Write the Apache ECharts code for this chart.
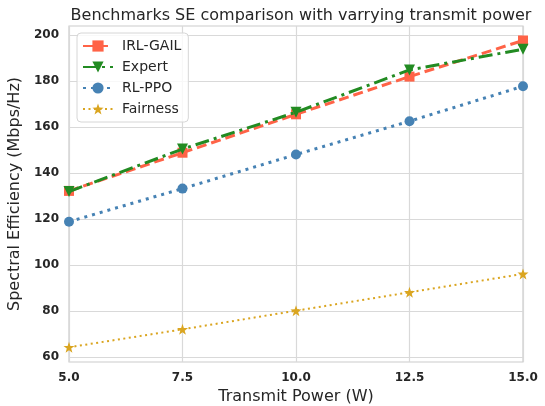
<!DOCTYPE html>
<html>
<head>
<meta charset="utf-8">
<script src="https://cdn.jsdelivr.net/npm/echarts@6/dist/echarts.min.js"></script>
<style>
  html, body { margin: 0; padding: 0; background: #fff; }
  #chart { width: 545px; height: 406px; }
</style>
</head>
<body>
<div id="chart"></div>
<script>
// transmit power (W)
const power = [5.0, 7.5, 10.0, 12.5, 15.0];
const irlGail = [132.2, 148.8, 165.5, 181.9, 197.6];
const expert = [131.9, 150.4, 166.4, 184.8, 193.8];
const rlPpo = [118.8, 133.2, 148.0, 162.5, 177.7];
const fairness = [64.2, 72.0, 80.1, 88.1, 96.1];
const yTicks = [60, 80, 100, 120, 140, 160, 180, 200];

const pairs = (ys) => power.map((x, i) => [x, ys[i]]);

const font = 'DejaVu Sans';
const dark = '#262626';
const gridCol = '#d9d9d9';

const chart = echarts.init(document.getElementById('chart'));

const option = {
  animation: false,
  textStyle: { fontFamily: font },
  title: {
    text: 'Benchmarks SE comparison with varrying transmit power',
    left: 296,
    textAlign: 'center',
    top: 3,
    textStyle: { fontFamily: font, fontSize: 16, fontWeight: 'normal', color: dark }
  },
  grid: {
    left: 69, right: 22, top: 26, bottom: 44,
    outerBoundsMode: 'none', containLabel: false,
    show: true, borderColor: '#cccccc', borderWidth: 1.2, backgroundColor: '#fff'
  },
  legend: {
    left: 77, top: 33, orient: 'vertical',
    padding: [6, 7, 6, 5],
    itemGap: 7, itemWidth: 30, itemHeight: 14,
    backgroundColor: 'rgba(255,255,255,0.8)',
    borderColor: '#d6d6d6', borderWidth: 1, borderRadius: 4,
    textStyle: { fontFamily: font, fontSize: 14, color: dark, padding: [0, 0, 0, 4] },
    data: ['IRL-GAIL', 'Expert', 'RL-PPO', 'Fairness']
  },
  xAxis: {
    type: 'value', min: 5, max: 15, interval: 2.5,
    name: 'Transmit Power (W)', nameLocation: 'middle', nameGap: 27,
    nameTextStyle: { fontFamily: font, fontSize: 16, color: dark },
    axisLine: { show: false }, axisTick: { show: false },
    axisLabel: {
      fontFamily: font, fontSize: 12, fontWeight: 'bold', color: dark, margin: 10,
      formatter: (v) => v.toFixed(1), showMinLabel: true, showMaxLabel: true
    },
    splitLine: { show: true, lineStyle: { color: gridCol, width: 1.2 } }
  },
  yAxis: {
    type: 'value', min: 57.8, max: 203.9,
    name: 'Spectral Efficiency (Mbps/Hz)', nameLocation: 'middle', nameGap: 36,
    nameTextStyle: { fontFamily: font, fontSize: 16, color: dark },
    axisLine: { show: false },
    axisTick: { show: false, customValues: yTicks },
    axisLabel: {
      customValues: yTicks,
      fontFamily: font, fontSize: 12, fontWeight: 'bold', color: dark, margin: 10
    },
    splitLine: { show: true, lineStyle: { color: gridCol, width: 1.2 } }
  },
  series: [
    {
      name: 'IRL-GAIL', type: 'line', data: pairs(irlGail), z: 3,
      symbol: 'rect', symbolSize: 10,
      itemStyle: { color: '#ff6347' },
      lineStyle: { color: '#ff6347', width: 3, type: [10, 5] }
    },
    {
      name: 'Expert', type: 'line', data: pairs(expert), z: 4,
      symbol: 'triangle', symbolRotate: 180, symbolSize: 11,
      itemStyle: { color: '#228b22' },
      lineStyle: { color: '#228b22', width: 3, type: [14, 5, 3, 5] }
    },
    {
      name: 'RL-PPO', type: 'line', data: pairs(rlPpo), z: 3,
      symbol: 'circle', symbolSize: 10,
      itemStyle: { color: '#4682b4' },
      lineStyle: { color: '#4682b4', width: 3, type: [3, 5] }
    },
    {
      name: 'Fairness', type: 'line', data: pairs(fairness), z: 3,
      symbol: 'path://M0,-10 L2.35,-3.24 L9.51,-3.09 L3.8,1.24 L5.88,8.09 L0,4 L-5.88,8.09 L-3.8,1.24 L-9.51,-3.09 L-2.35,-3.24 Z',
      symbolSize: 11,
      itemStyle: { color: '#daa520' },
      lineStyle: { color: '#daa520', width: 2, type: [2, 3.5] }
    }
  ]
};

chart.setOption(option);
</script>
</body>
</html>
